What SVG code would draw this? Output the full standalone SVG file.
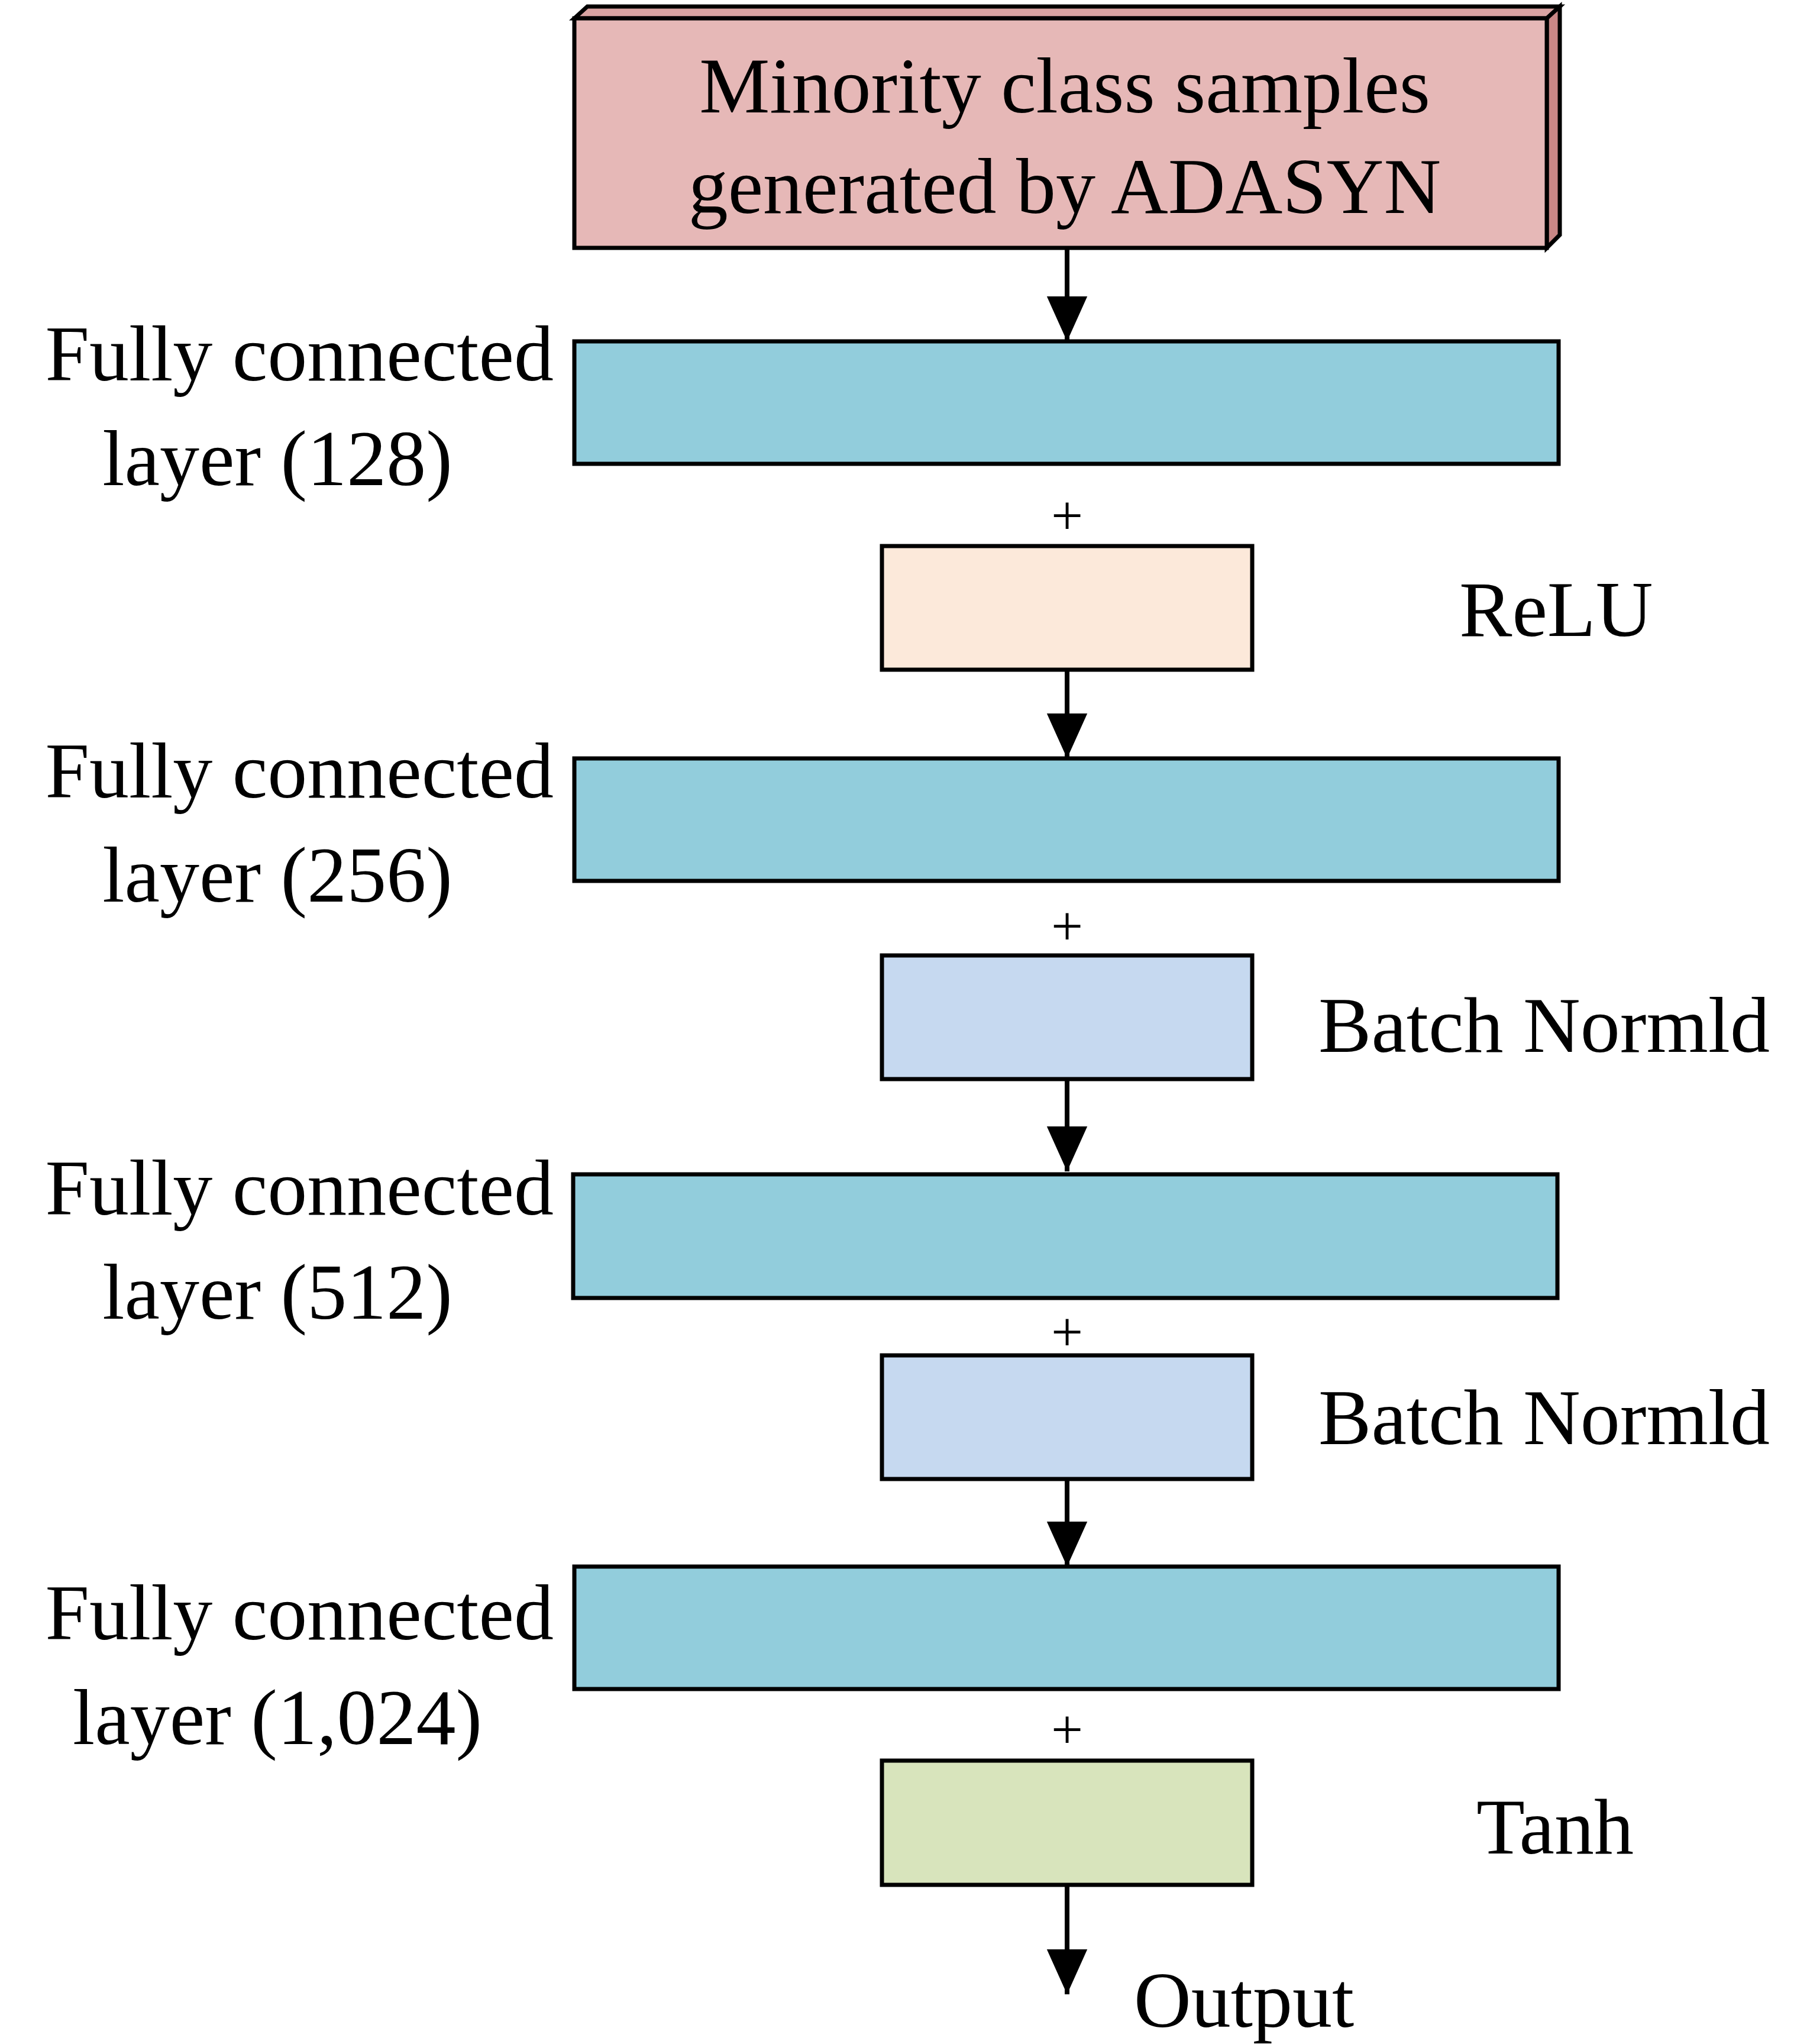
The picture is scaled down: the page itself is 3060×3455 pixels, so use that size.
<svg xmlns="http://www.w3.org/2000/svg" width="3060" height="3455" viewBox="0 0 3060 3455">
<style>
.b{stroke:#000;stroke-width:7;stroke-linejoin:miter}
.t{font-family:"Liberation Serif",serif;font-size:134px;fill:#000}
.p{font-family:"Liberation Serif",serif;font-size:96px;fill:#000;text-anchor:middle}
.c{stroke:#000;stroke-width:8;fill:none}
</style>
<defs><marker id="a" markerWidth="10" markerHeight="10" refX="9" refY="5" orient="auto" markerUnits="userSpaceOnUse" viewBox="0 0 10 10"><path d="M0,0L10,5L0,10z"/></marker>
<marker id="ah" viewBox="0 0 10 10" refX="10" refY="5" markerWidth="76" markerHeight="76" markerUnits="userSpaceOnUse" orient="auto"><path d="M0,0.5L10,5L0,9.5z" fill="#000"/></marker></defs>
<g id="input">
<polygon class="b" points="971,31 993,11 2637,11 2615,31" fill="#D9A3A2"/>
<polygon class="b" points="2615,31 2637,11 2637,397 2615,419" fill="#C98786"/>
<rect class="b" x="971" y="31" width="1644" height="388" fill="#E6B8B7"/>
<text class="t" x="1800" y="190" text-anchor="middle">Minority class samples</text>
<text class="t" x="1800" y="360" text-anchor="middle">generated by ADASYN</text>
</g>
<g id="fc1"><rect class="b" x="971" y="577" width="1664" height="207" fill="#92CDDC"/>
<text class="t" x="936" y="643" text-anchor="end">Fully connected</text><text class="t" x="469" y="820" text-anchor="middle">layer (128)</text></g>
<g id="relu"><rect class="b" x="1491" y="923" width="626" height="209" fill="#FCE9DA"/><text class="t" x="2467" y="1075">ReLU</text></g>
<g id="fc2"><rect class="b" x="971" y="1282" width="1664" height="207" fill="#92CDDC"/>
<text class="t" x="936" y="1348" text-anchor="end">Fully connected</text><text class="t" x="469" y="1524" text-anchor="middle">layer (256)</text></g>
<g id="bn1"><rect class="b" x="1491" y="1615" width="626" height="209" fill="#C6D9F0"/><text class="t" x="2229" y="1778">Batch Normld</text></g>
<g id="fc3"><rect class="b" x="969" y="1985" width="1664" height="209" fill="#92CDDC"/>
<text class="t" x="936" y="2053" text-anchor="end">Fully connected</text><text class="t" x="469" y="2229" text-anchor="middle">layer (512)</text></g>
<g id="bn2"><rect class="b" x="1491" y="2291" width="626" height="209" fill="#C6D9F0"/><text class="t" x="2229" y="2441">Batch Normld</text></g>
<g id="fc4"><rect class="b" x="971" y="2648" width="1664" height="207" fill="#92CDDC"/>
<text class="t" x="936" y="2771" text-anchor="end">Fully connected</text><text class="t" x="469" y="2948" text-anchor="middle">layer (1,024)</text></g>
<g id="tanh"><rect class="b" x="1491" y="2976" width="626" height="210" fill="#D8E4BC"/><text class="t" x="2496" y="3133">Tanh</text></g>
<g id="output"><text class="t" x="1917" y="3426">Output</text></g>
<g id="connectors">
<line class="c" x1="1804" y1="419" x2="1804" y2="577" marker-end="url(#ah)"/>
<line class="c" x1="1804" y1="1132" x2="1804" y2="1282" marker-end="url(#ah)"/>
<line class="c" x1="1804" y1="1824" x2="1804" y2="1980" marker-end="url(#ah)"/>
<line class="c" x1="1804" y1="2500" x2="1804" y2="2648" marker-end="url(#ah)"/>
<line class="c" x1="1804" y1="3186" x2="1804" y2="3371" marker-end="url(#ah)"/>
<text class="p" x="1804" y="903">+</text>
<text class="p" x="1804" y="1597">+</text>
<text class="p" x="1804" y="2283">+</text>
<text class="p" x="1804" y="2955">+</text>
</g>
</svg>
